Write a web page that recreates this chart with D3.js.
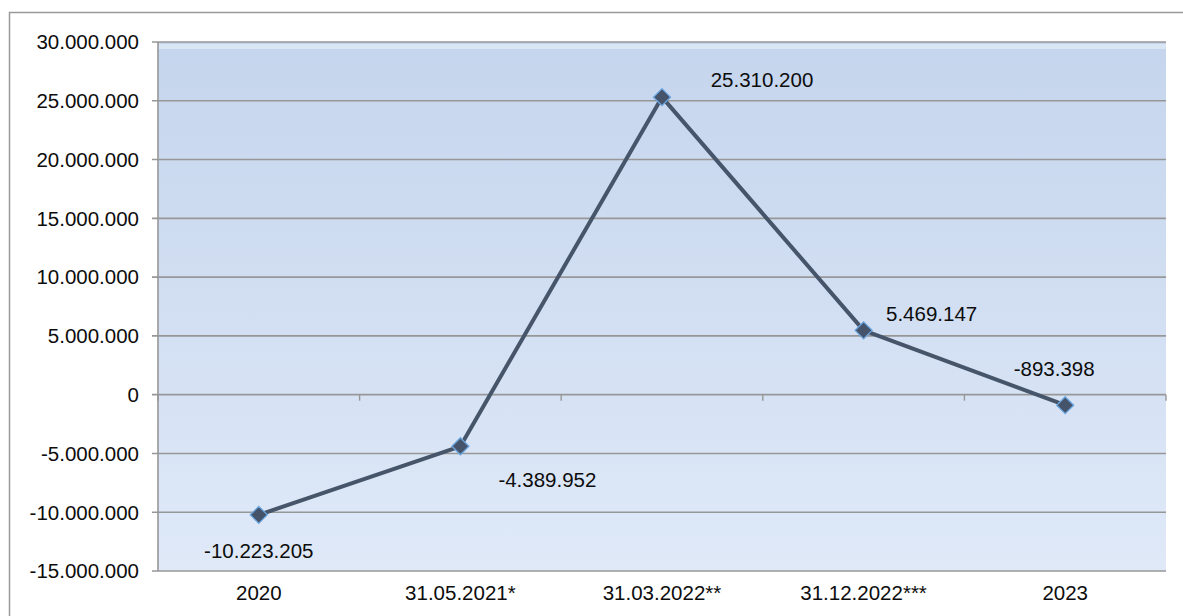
<!DOCTYPE html>
<html>
<head>
<meta charset="utf-8">
<script src="https://cdn.jsdelivr.net/npm/d3@7"></script>
<style>
  html, body { margin: 0; padding: 0; background: #ffffff; }
  svg { display: block; font-family: "Liberation Sans", Arial, sans-serif; }
</style>
</head>
<body>
<svg id="chart" width="1183" height="616"></svg>
<script>
// Period labels and values
const categories = ["2020", "31.05.2021*", "31.03.2022**", "31.12.2022***", "2023"];
const values = [-10223205, -4389952, 25310200, 5469147, -893398];
const yTicks = [-15000000, -10000000, -5000000, 0, 5000000, 10000000, 15000000, 20000000, 25000000, 30000000];

// Where each value label sits relative to its point (dx, dy)
const labelOffsets = [[0, 36], [87, 33], [100, -18], [68, -17], [-11, -37]];

const svg = d3.select("#chart");
const margin = { left: 158, top: 42, right: 1166, bottom: 571 };

const locale = d3.formatLocale({ decimal: ",", thousands: ".", grouping: [3], currency: ["", ""], minus: "-" });
const fmt = locale.format(",d");

const x = d3.scaleBand().domain(categories).range([margin.left, margin.right]).paddingInner(0).paddingOuter(0);
const y = d3.scaleLinear().domain([-15000000, 30000000]).range([margin.bottom, margin.top]);

// Outer chart frame
svg.append("rect")
  .attr("x", 9.5).attr("y", 12.5).attr("width", 1190).attr("height", 620)
  .attr("fill", "none").attr("stroke", "#9a9a9a").attr("stroke-width", 1.5);

// Plot background gradient
const defs = svg.append("defs");
const grad = defs.append("linearGradient").attr("id", "bg").attr("x1", 0).attr("y1", 0).attr("x2", 0).attr("y2", 1);
grad.append("stop").attr("offset", "0%").attr("stop-color", "#c5d5ed");
grad.append("stop").attr("offset", "100%").attr("stop-color", "#dfe9f8");

svg.append("rect")
  .attr("x", margin.left).attr("y", margin.top)
  .attr("width", margin.right - margin.left).attr("height", margin.bottom - margin.top)
  .attr("fill", "url(#bg)");

// Light highlight strip along the top of the plot
svg.append("rect")
  .attr("x", margin.left).attr("y", margin.top + 2)
  .attr("width", margin.right - margin.left).attr("height", 5)
  .attr("fill", "#dbe6f4");

// Horizontal gridlines
svg.append("g").selectAll("line").data(yTicks).join("line")
  .attr("x1", margin.left - 6).attr("x2", margin.right)
  .attr("y1", d => y(d)).attr("y2", d => y(d))
  .attr("stroke", "#979797").attr("stroke-width", 1.6);

// Left axis line
svg.append("line")
  .attr("x1", margin.left).attr("x2", margin.left)
  .attr("y1", margin.top).attr("y2", margin.bottom)
  .attr("stroke", "#979797").attr("stroke-width", 1.6);

// Category boundary ticks hanging from the zero line
const boundaries = categories.map(c => x(c)).concat([x(categories[categories.length - 1]) + x.bandwidth()]);
svg.append("g").selectAll("line").data(boundaries).join("line")
  .attr("x1", d => d).attr("x2", d => d)
  .attr("y1", y(0)).attr("y2", y(0) + 6)
  .attr("stroke", "#979797").attr("stroke-width", 1.4);

// Y tick labels
svg.append("g").selectAll("text").data(yTicks).join("text")
  .attr("x", margin.left - 19).attr("y", d => y(d))
  .attr("dy", "0.36em").attr("text-anchor", "end")
  .attr("font-size", "20.5px").attr("fill", "#0d0d0d")
  .text(d => fmt(d));

// X category labels
svg.append("g").selectAll("text").data(categories).join("text")
  .attr("x", d => x(d) + x.bandwidth() / 2).attr("y", margin.bottom + 29)
  .attr("text-anchor", "middle")
  .attr("font-size", "20.5px").attr("fill", "#0d0d0d")
  .text(d => d);

// Series line
const pts = categories.map((c, i) => ({ c, v: values[i], i }));
const line = d3.line().x(d => x(d.c) + x.bandwidth() / 2).y(d => y(d.v));
svg.append("path").datum(pts)
  .attr("d", line).attr("fill", "none")
  .attr("stroke", "#465569").attr("stroke-width", 4).attr("stroke-linejoin", "round");

// Diamond markers
svg.append("g").selectAll("path").data(pts).join("path")
  .attr("transform", d => `translate(${x(d.c) + x.bandwidth() / 2},${y(d.v)})`)
  .attr("d", "M0,-8.5L8.5,0L0,8.5L-8.5,0Z")
  .attr("fill", "#46546b").attr("stroke", "#6aa6e0").attr("stroke-width", 1.3);

// Value labels
svg.append("g").selectAll("text").data(pts).join("text")
  .attr("x", d => x(d.c) + x.bandwidth() / 2 + labelOffsets[d.i][0])
  .attr("y", d => y(d.v) + labelOffsets[d.i][1])
  .attr("dy", "0.36em").attr("text-anchor", "middle")
  .attr("font-size", "20.5px").attr("fill", "#0d0d0d")
  .text(d => fmt(d.v));
</script>
</body>
</html>
